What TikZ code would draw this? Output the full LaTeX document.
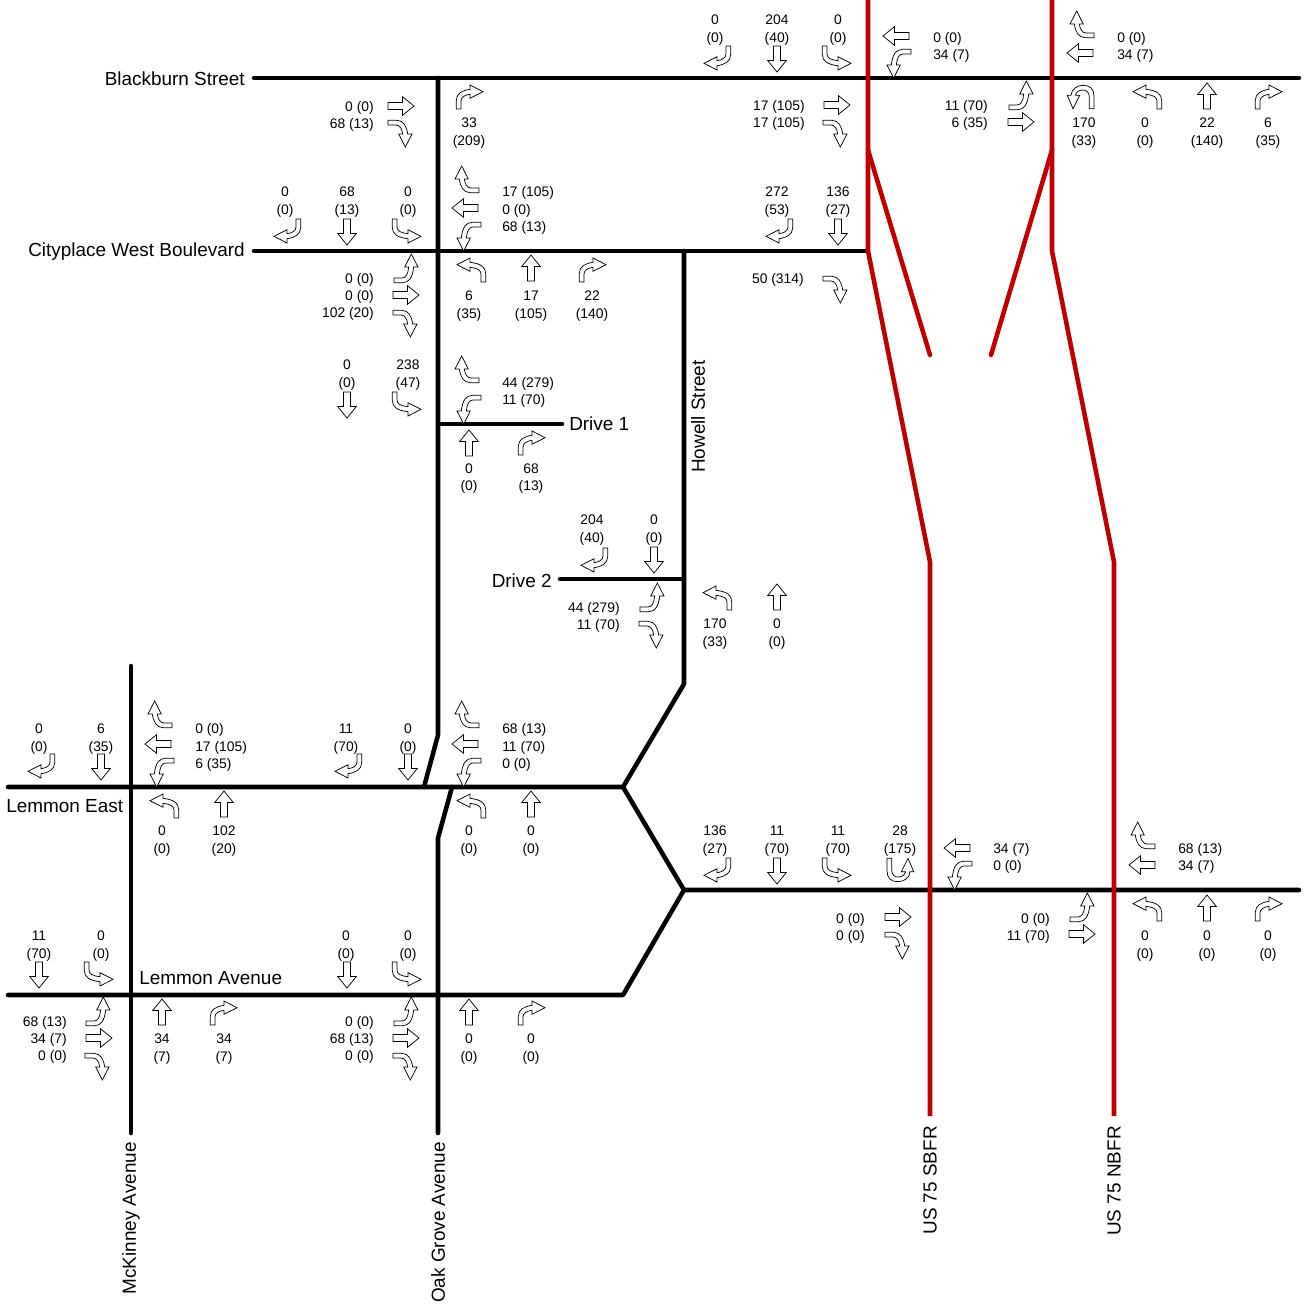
\documentclass[tikz,border=0pt]{standalone}
\usepackage{fontspec}
\setmainfont{Liberation Sans}
\usetikzlibrary{positioning,calc}
\definecolor{ramp_color}{RGB}{192,0,0}
\tikzset{
  road/.style={draw=black, line width=3.4pt, line cap=round, line join=round},
  ramp/.style={draw=ramp_color, line width=3.4pt, line cap=round, line join=round},
  roadname/.style={font=\fontsize{14.2}{17}\selectfont, inner sep=0pt},
  vol/.style={font=\fontsize{10.4}{12.9}\selectfont, align=center, inner sep=0pt, yshift=-1.2pt},
  volright/.style={vol, align=right, anchor=east},
  volleft/.style={vol, align=left, anchor=west},
  move/.style={draw=black, line width=0.55pt, fill=white, line join=miter},
  thrumove/.pic={
    \path[move] (-3.5,-13) -- (3.5,-13) -- (3.5,1.5) -- (9.3,1.5) -- (0,13)
      -- (-9.3,1.5) -- (-3.5,1.5) -- cycle;
  },
  rightmove/.pic={
    \path[move] (9,-12) -- (13.7,-12) -- (13.7,-3.5) .. controls (13.7,3.5) and (8,6.5) .. (0,7.7)
      -- (0,12) -- (-13,5.3) -- (0,-1.3) -- (0,2.7) .. controls (5,2) and (9,0) .. (9,-4) -- cycle;
  },
  leftmove/.pic={
    \path[move] (-9,-12) -- (-13.7,-12) -- (-13.7,-3.5) .. controls (-13.7,3.5) and (-8,6.5) .. (2,7.7)
      -- (2,12) -- (15,5.3) -- (2,-1.3) -- (2,2.7) .. controls (-5,2) and (-9,0) .. (-9,-4) -- cycle;
  },
  umove/.pic={
    \path[move] (-13,-11.7) -- (-8.3,-11.7) -- (-8.3,0) .. controls (-8.3,5) and (-5,7) .. (-2,7)
      .. controls (2,7) and (5,5) .. (5.5,1.7) -- (1.3,1.7) -- (8,-11.7) -- (13.7,1.7) -- (10,1.7)
      .. controls (9.5,8) and (4,11.7) .. (-2,11.7) .. controls (-9,11.7) and (-13,8) .. (-13,1) -- cycle;
  }
}

\begin{document}
\begin{tikzpicture}[x=0.75pt, y=-0.75pt]
\useasboundingbox (0,0) rectangle (1307,1310);

\coordinate (blackburn_w) at (254,78);
\coordinate (blackburn_e) at (1299,78);
\coordinate (cityplace_w) at (254,251);
\coordinate (cityplace_e) at (868,251);
\coordinate (oak_n) at (438,78);
\coordinate (oak_bend_n) at (438,735);
\coordinate (oak_join_n) at (424,787);
\coordinate (oak_join_s) at (452,787);
\coordinate (oak_bend_s) at (438,838);
\coordinate (oak_s) at (438,1133);
\coordinate (mckinney_n) at (131,666);
\coordinate (mckinney_s) at (131,1133);
\coordinate (lemmon_east_w) at (8,787);
\coordinate (lemmon_east_e) at (623,787);
\coordinate (lemmon_ave_w) at (8,995);
\coordinate (lemmon_ave_e) at (623,995);
\coordinate (lemmon_tip) at (684,890);
\coordinate (lemmon_far_e) at (1299,890);
\coordinate (howell_n) at (684,251);
\coordinate (howell_s) at (684,684);
\coordinate (drive1_w) at (438,424);
\coordinate (drive1_e) at (562,424);
\coordinate (drive2_w) at (560,579);
\coordinate (drive2_e) at (684,579);

\coordinate (sbfr_n) at (868,0);
\coordinate (sbfr_fork) at (868,150);
\coordinate (sbfr_a) at (868,251);
\coordinate (sbfr_b) at (930,562);
\coordinate (sbfr_s) at (930,1116);
\coordinate (sbfr_stub) at (930,355);
\coordinate (nbfr_n) at (1052,0);
\coordinate (nbfr_fork) at (1052,150);
\coordinate (nbfr_a) at (1052,251);
\coordinate (nbfr_b) at (1114,562);
\coordinate (nbfr_s) at (1114,1116);
\coordinate (nbfr_stub) at (991,355);

\draw[road] (blackburn_w) -- (blackburn_e);
\draw[road] (cityplace_w) -- (cityplace_e);
\draw[road] (oak_n) -- (oak_bend_n) -- (oak_join_n);
\draw[road] (oak_join_s) -- (oak_bend_s) -- (oak_s);
\draw[road] (mckinney_n) -- (mckinney_s);
\draw[road] (lemmon_east_w) -- (lemmon_east_e) -- (lemmon_tip) -- (lemmon_far_e);
\draw[road] (lemmon_ave_w) -- (lemmon_ave_e) -- (lemmon_tip);
\draw[road] (lemmon_east_e) -- (howell_s) -- (howell_n);
\draw[road] (drive1_w) -- (drive1_e);
\draw[road] (drive2_w) -- (drive2_e);

\draw[ramp, line cap=butt] (sbfr_n) -- (sbfr_a) -- (sbfr_b) -- (sbfr_s);
\draw[ramp] (sbfr_fork) -- (sbfr_stub);
\draw[ramp, line cap=butt] (nbfr_n) -- (nbfr_a) -- (nbfr_b) -- (nbfr_s);
\draw[ramp] (nbfr_fork) -- (nbfr_stub);

\node[roadname, anchor=east] (blackburn) at (245,79) {Blackburn Street};
\node[roadname, anchor=east] (cityplace) at (245,252) {Cityplace West Boulevard};
\node[roadname, anchor=west] (drive1) at (569,424) {Drive 1};
\node[roadname, anchor=east] (drive2) at (552,581) {Drive 2};
\node[roadname, anchor=west] (lemmoneast) at (6,806) {Lemmon East};
\node[roadname, anchor=west] (lemmonave) at (139,978) {Lemmon Avenue};
\node[roadname, rotate=90, anchor=east] (howell) at (698,360) {Howell Street};
\node[roadname, rotate=90, anchor=east] (mckinney) at (131,1142) {McKinney Avenue};
\node[roadname, rotate=90, anchor=east] (oakgrove) at (438,1142) {Oak Grove Avenue};
\node[roadname, rotate=90, anchor=east] (sbfr) at (930,1126) {US 75 SBFR};
\node[roadname, rotate=90, anchor=east] (nbfr) at (1114,1126) {US 75 NBFR};

\node[volright] (vol1) at (374,114.5) {0 (0)\\68 (13)};
\node[vol] (vol2) at (469,131.5) {33\\(209)};
\pic[rotate=90] at (401,106) {thrumove};
\pic[rotate=90] at (400,134) {rightmove};
\pic[rotate=180] at (470,97) {rightmove};

\node[vol] (vol3) at (715,28.5) {0\\(0)};
\node[vol] (vol4) at (777,28.5) {204\\(40)};
\node[vol] (vol5) at (838,28.5) {0\\(0)};
\node[volleft] (vol6) at (933,45.5) {0 (0)\\34 (7)};
\node[volright] (vol7) at (805,113.5) {17 (105)\\17 (105)};
\pic at (717,58) {rightmove};
\pic at (777,59) {thrumove};
\pic at (836,58) {leftmove};
\pic[rotate=-90] at (896,36) {thrumove};
\pic[rotate=-90] at (899,63) {leftmove};
\pic[rotate=90] at (837,105) {thrumove};
\pic[rotate=90] at (835,134) {rightmove};

\node[volleft] (vol8) at (1117,45.5) {0 (0)\\34 (7)};
\node[volright] (vol9) at (988,114) {11 (70)\\6 (35)};
\node[vol] (vol10) at (1084,131.5) {170\\(33)};
\node[vol] (vol11) at (1145,131.5) {0\\(0)};
\node[vol] (vol12) at (1207,131.5) {22\\(140)};
\node[vol] (vol13) at (1268,131.5) {6\\(35)};
\pic[rotate=-90] at (1082,24) {rightmove};
\pic[rotate=-90] at (1080,53) {thrumove};
\pic[rotate=90] at (1021,96) {leftmove};
\pic[rotate=90] at (1021,122) {thrumove};
\pic[rotate=180] at (1081,97) {umove};
\pic[rotate=180] at (1148,97) {leftmove};
\pic[rotate=180] at (1207,96) {thrumove};
\pic[rotate=180] at (1269,97) {rightmove};

\node[vol] (vol14) at (285,200.5) {0\\(0)};
\node[vol] (vol15) at (347,200.5) {68\\(13)};
\node[vol] (vol16) at (408,200.5) {0\\(0)};
\node[volleft] (vol17) at (502,209) {17 (105)\\0 (0)\\68 (13)};
\node[volright] (vol18) at (374,295.5) {0 (0)\\0 (0)\\102 (20)};
\node[vol] (vol19) at (469,304.5) {6\\(35)};
\node[vol] (vol20) at (531,304.5) {17\\(105)};
\node[vol] (vol21) at (592,304.5) {22\\(140)};
\pic at (287,231) {rightmove};
\pic at (347,232) {thrumove};
\pic at (406,231) {leftmove};
\pic[rotate=-90] at (467,179) {rightmove};
\pic[rotate=-90] at (465,208) {thrumove};
\pic[rotate=-90] at (469,236) {leftmove};
\pic[rotate=90] at (406,269) {leftmove};
\pic[rotate=90] at (406,295) {thrumove};
\pic[rotate=90] at (405,324) {rightmove};
\pic[rotate=180] at (472,270) {leftmove};
\pic[rotate=180] at (531,268) {thrumove};
\pic[rotate=180] at (593,270) {rightmove};

\node[vol] (vol22) at (777,200.5) {272\\(53)};
\node[vol] (vol23) at (838,200.5) {136\\(27)};
\node[volright] (vol24) at (804,278) {50 (314)};
\pic at (779,231) {rightmove};
\pic at (838,232) {thrumove};
\pic[rotate=90] at (835,290) {rightmove};

\node[vol] (vol25) at (347,373.5) {0\\(0)};
\node[vol] (vol26) at (408,373.5) {238\\(47)};
\node[volleft] (vol27) at (502,390.5) {44 (279)\\11 (70)};
\node[vol] (vol28) at (469,477) {0\\(0)};
\node[vol] (vol29) at (531,477) {68\\(13)};
\pic at (347,405) {thrumove};
\pic at (406,404) {leftmove};
\pic[rotate=-90] at (467,369) {rightmove};
\pic[rotate=-90] at (469,409) {leftmove};
\pic[rotate=180] at (469,443) {thrumove};
\pic[rotate=180] at (532,443) {rightmove};

\node[vol] (vol30) at (592,528.5) {204\\(40)};
\node[vol] (vol31) at (654,528.5) {0\\(0)};
\node[volright] (vol32) at (620,615.5) {44 (279)\\11 (70)};
\node[vol] (vol33) at (715,632.5) {170\\(33)};
\node[vol] (vol34) at (777,632.5) {0\\(0)};
\pic at (594,560) {rightmove};
\pic at (654,560) {thrumove};
\pic[rotate=90] at (652,598) {leftmove};
\pic[rotate=90] at (651,635) {rightmove};
\pic[rotate=180] at (718,598) {leftmove};
\pic[rotate=180] at (777,597) {thrumove};

\node[vol] (vol35) at (39,737.5) {0\\(0)};
\node[vol] (vol36) at (101,737.5) {6\\(35)};
\node[volleft] (vol37) at (195,746) {0 (0)\\17 (105)\\6 (35)};
\node[vol] (vol38) at (162,839.5) {0\\(0)};
\node[vol] (vol39) at (224,839.5) {102\\(20)};
\pic at (41,766) {rightmove};
\pic at (101,767) {thrumove};
\pic[rotate=-90] at (160,714) {rightmove};
\pic[rotate=-90] at (158,744) {thrumove};
\pic[rotate=-90] at (162,772) {leftmove};
\pic[rotate=180] at (165,806) {leftmove};
\pic[rotate=180] at (224,804) {thrumove};

\node[vol] (vol40) at (346,737.5) {11\\(70)};
\node[vol] (vol41) at (408,737.5) {0\\(0)};
\node[volleft] (vol42) at (502,746) {68 (13)\\11 (70)\\0 (0)};
\node[vol] (vol43) at (469,839.5) {0\\(0)};
\node[vol] (vol44) at (531,839.5) {0\\(0)};
\pic at (348,766) {rightmove};
\pic at (408,767) {thrumove};
\pic[rotate=-90] at (467,714) {rightmove};
\pic[rotate=-90] at (465,744) {thrumove};
\pic[rotate=-90] at (469,772) {leftmove};
\pic[rotate=180] at (472,806) {leftmove};
\pic[rotate=180] at (531,804) {thrumove};

\node[vol] (vol45) at (715,839.5) {136\\(27)};
\node[vol] (vol46) at (777,839.5) {11\\(70)};
\node[vol] (vol47) at (838,839.5) {11\\(70)};
\node[vol] (vol48) at (900,839.5) {28\\(175)};
\node[volleft] (vol49) at (993,857) {34 (7)\\0 (0)};
\node[volright] (vol50) at (865,926.5) {0 (0)\\0 (0)};
\pic at (717,870) {rightmove};
\pic at (777,871) {thrumove};
\pic at (836,870) {leftmove};
\pic at (900,870) {umove};
\pic[rotate=-90] at (957,848) {thrumove};
\pic[rotate=-90] at (960,875) {leftmove};
\pic[rotate=90] at (898,917) {thrumove};
\pic[rotate=90] at (897,946) {rightmove};

\node[volleft] (vol51) at (1178,857) {68 (13)\\34 (7)};
\node[volright] (vol52) at (1050,926.5) {0 (0)\\11 (70)};
\node[vol] (vol53) at (1145,944.5) {0\\(0)};
\node[vol] (vol54) at (1207,944.5) {0\\(0)};
\node[vol] (vol55) at (1268,944.5) {0\\(0)};
\pic[rotate=-90] at (1143,835) {rightmove};
\pic[rotate=-90] at (1142,865) {thrumove};
\pic[rotate=90] at (1082,908) {leftmove};
\pic[rotate=90] at (1082,934) {thrumove};
\pic[rotate=180] at (1148,909) {leftmove};
\pic[rotate=180] at (1207,908) {thrumove};
\pic[rotate=180] at (1269,909) {rightmove};

\node[vol] (vol56) at (39,944.5) {11\\(70)};
\node[vol] (vol57) at (101,944.5) {0\\(0)};
\node[volright] (vol58) at (67,1038.5) {68 (13)\\34 (7)\\0 (0)};
\node[vol] (vol59) at (162,1047.5) {34\\(7)};
\node[vol] (vol60) at (224,1047.5) {34\\(7)};
\pic at (39,975) {thrumove};
\pic at (98,974) {leftmove};
\pic[rotate=90] at (98,1012) {leftmove};
\pic[rotate=90] at (99,1038) {thrumove};
\pic[rotate=90] at (97,1067) {rightmove};
\pic[rotate=180] at (162,1012) {thrumove};
\pic[rotate=180] at (224,1013) {rightmove};

\node[vol] (vol61) at (346,944.5) {0\\(0)};
\node[vol] (vol62) at (408,944.5) {0\\(0)};
\node[volright] (vol63) at (374,1038.5) {0 (0)\\68 (13)\\0 (0)};
\node[vol] (vol64) at (469,1047.5) {0\\(0)};
\node[vol] (vol65) at (531,1047.5) {0\\(0)};
\pic at (347,975) {thrumove};
\pic at (406,974) {leftmove};
\pic[rotate=90] at (406,1012) {leftmove};
\pic[rotate=90] at (406,1038) {thrumove};
\pic[rotate=90] at (405,1067) {rightmove};
\pic[rotate=180] at (469,1012) {thrumove};
\pic[rotate=180] at (532,1013) {rightmove};

\end{tikzpicture}
\end{document}
